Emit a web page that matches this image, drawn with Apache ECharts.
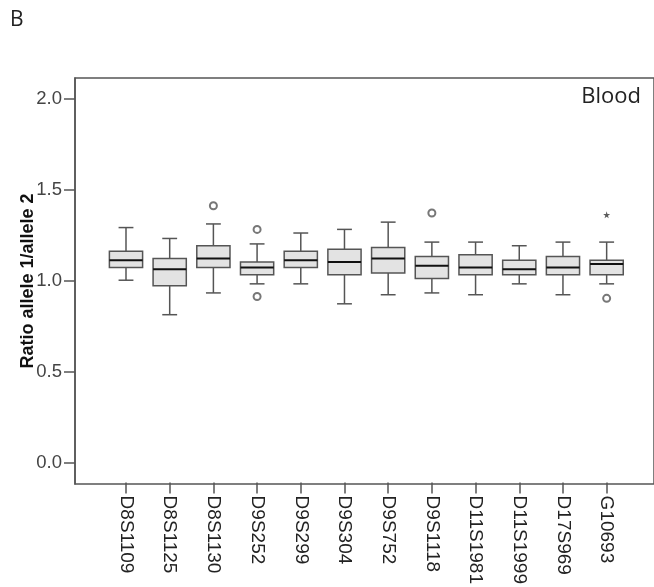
<!DOCTYPE html>
<html>
<head>
<meta charset="utf-8">
<script src="https://cdn.jsdelivr.net/npm/echarts@6/dist/echarts.min.js"></script>
<style>
  html, body { margin: 0; padding: 0; background: #fff; }
  #main { width: 654px; height: 587px; }
</style>
</head>
<body>
<div id="main"></div>
<script>
// markers
var categories = ['D8S1109', 'D8S1125', 'D8S1130', 'D9S252', 'D9S299', 'D9S304',
  'D9S752', 'D9S1118', 'D11S1981', 'D11S1999', 'D17S969', 'G10693'];
// box statistics per marker
var lows    = [1.00, 0.81, 0.93, 0.98, 0.98, 0.87, 0.92, 0.93, 0.92, 0.98, 0.92, 0.98];
var q1s     = [1.07, 0.97, 1.07, 1.03, 1.07, 1.03, 1.04, 1.01, 1.03, 1.03, 1.03, 1.03];
var medians = [1.11, 1.06, 1.12, 1.07, 1.11, 1.10, 1.12, 1.08, 1.07, 1.06, 1.07, 1.09];
var q3s     = [1.16, 1.12, 1.19, 1.10, 1.16, 1.17, 1.18, 1.13, 1.14, 1.11, 1.13, 1.11];
var highs   = [1.29, 1.23, 1.31, 1.20, 1.26, 1.28, 1.32, 1.21, 1.21, 1.19, 1.21, 1.21];
// [marker index, value]
var outliers = [[2, 1.41], [3, 1.28], [3, 0.91], [7, 1.37], [11, 0.90]];
var extremes = [[11, 1.36]];
var yTicks = [0, 0.5, 1.0, 1.5, 2.0];

var yMin = -0.115, yMax = 2.114;

var boxData = categories.map(function (c, i) {
  return [i, lows[i], q1s[i], medians[i], q3s[i], highs[i]];
});

function renderBox(params, api) {
  var i = api.value(0);
  var pLow = api.coord([i, api.value(1)]);
  var pQ1 = api.coord([i, api.value(2)]);
  var pMed = api.coord([i, api.value(3)]);
  var pQ3 = api.coord([i, api.value(4)]);
  var pHigh = api.coord([i, api.value(5)]);
  var band = api.size([1, 0])[0];
  var half = band * 0.38;
  var cap = band * 0.17;
  var x = pMed[0];
  var ln = { stroke: '#555', lineWidth: 1.5 };
  return {
    type: 'group',
    children: [
      { type: 'line', shape: { x1: x, y1: pHigh[1], x2: x, y2: pQ3[1] }, style: ln },
      { type: 'line', shape: { x1: x, y1: pLow[1], x2: x, y2: pQ1[1] }, style: ln },
      { type: 'line', shape: { x1: x - cap, y1: pHigh[1], x2: x + cap, y2: pHigh[1] }, style: ln },
      { type: 'line', shape: { x1: x - cap, y1: pLow[1], x2: x + cap, y2: pLow[1] }, style: ln },
      { type: 'rect', shape: { x: x - half, y: pQ3[1], width: half * 2, height: pQ1[1] - pQ3[1] },
        style: { fill: '#e3e3e3', stroke: '#555', lineWidth: 1.5 } },
      { type: 'line', shape: { x1: x - half, y1: pMed[1], x2: x + half, y2: pMed[1] },
        style: { stroke: '#111', lineWidth: 2 } }
    ]
  };
}

var chart = echarts.init(document.getElementById('main'));
chart.setOption({
  animation: false,
  textStyle: { fontFamily: 'Liberation Sans, Arial, sans-serif' },
  title: [
    { text: 'B', left: 5, top: 5,
      textStyle: { fontFamily: 'Open Sans', fontSize: 21, fontWeight: 'normal', color: '#222' } },
    { text: 'Blood', right: 8, top: 81,
      textStyle: { fontFamily: 'Open Sans', fontSize: 22, fontWeight: 'normal', color: '#222' } }
  ],
  grid: [
    { left: 75, right: -5, top: 78, bottom: 103, show: true, borderColor: '#555', borderWidth: 1.5 },
    { left: 104.15, right: 25.5, top: 78, bottom: 103 }
  ],
  xAxis: [
    { gridIndex: 0, type: 'value', show: false, min: 0, max: 1 },
    {
      gridIndex: 1, type: 'category', data: categories,
      // line hidden: the frame's border already draws the bottom edge
      axisLine: { show: true, onZero: false, lineStyle: { color: '#555', opacity: 0 } },
      axisTick: { show: true, alignWithLabel: true, length: 11, lineStyle: { color: '#555', width: 1.5, opacity: 1 } },
      axisLabel: { rotate: -90, fontSize: 19, color: '#222', margin: 13, interval: 0 }
    }
  ],
  yAxis: [
    {
      gridIndex: 0, type: 'value', min: yMin, max: yMax,
      name: 'Ratio allele 1/allele 2', nameLocation: 'middle', nameRotate: 90, nameGap: 38,
      nameMoveOverlap: false,
      nameTextStyle: { fontSize: 18, fontWeight: 'bold', color: '#111' },
      axisLine: { show: true, onZero: false, lineStyle: { color: '#555', width: 1.5 } },
      axisTick: { show: true, length: 11, customValues: yTicks, lineStyle: { color: '#555', width: 1.5 } },
      axisLabel: { fontSize: 18.5, color: '#444', margin: 13, customValues: yTicks,
        formatter: function (v) { return v.toFixed(1); } },
      splitLine: { show: false }
    },
    { gridIndex: 1, type: 'value', min: yMin, max: yMax, show: false }
  ],
  series: [
    {
      type: 'custom', xAxisIndex: 1, yAxisIndex: 1,
      renderItem: renderBox,
      encode: { x: 0, y: [1, 2, 3, 4, 5] },
      data: boxData
    },
    {
      type: 'scatter', xAxisIndex: 1, yAxisIndex: 1,
      symbol: 'emptyCircle', symbolSize: 7,
      itemStyle: { color: '#555', borderWidth: 1.5 },
      data: outliers
    },
    {
      type: 'scatter', xAxisIndex: 1, yAxisIndex: 1,
      symbol: 'path://M50,0 L61,35 L98,35 L68,57 L79,91 L50,70 L21,91 L32,57 L2,35 L39,35 Z',
      symbolSize: 7,
      itemStyle: { color: '#333' },
      data: extremes
    }
  ]
});
</script>
</body>
</html>
